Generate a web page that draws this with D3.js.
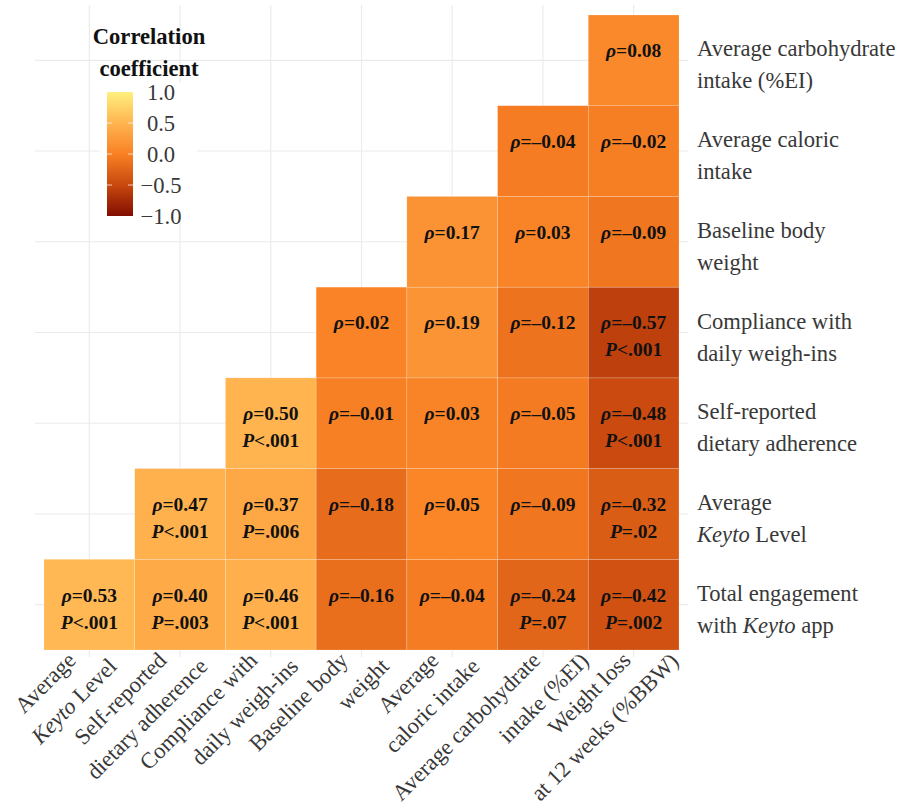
<!DOCTYPE html>
<html>
<head>
<meta charset="utf-8">
<script src="https://cdn.jsdelivr.net/npm/d3@7"></script>
<style>
  body { margin: 0; background: #fff; }
  text { font-family: "Liberation Serif", "Times New Roman", serif; }
</style>
</head>
<body>
<div class="chart"></div>
<script>
// columns, left to right
const colLabels = [
    ["Average", "*Keyto* Level"],
    ["Self-reported", "dietary adherence"],
    ["Compliance with", "daily weigh-ins"],
    ["Baseline body", "weight"],
    ["Average", "caloric intake"],
    ["Average carbohydrate", "intake (%EI)"],
    ["Weight loss", "at 12 weeks (%BBW)"]
];

// rows, bottom to top
const rowLabels = [
    ["Total engagement", "with *Keyto* app"],
    ["Average", "*Keyto* Level"],
    ["Self-reported", "dietary adherence"],
    ["Compliance with", "daily weigh-ins"],
    ["Baseline body", "weight"],
    ["Average caloric", "intake"],
    ["Average carbohydrate", "intake (%EI)"]
];

// rho per row (bottom to top), one entry per column
const rhoValues = [
    [0.53, 0.40, 0.46, -0.16, -0.04, -0.24, -0.42],
    [null, 0.47, 0.37, -0.18, 0.05, -0.09, -0.32],
    [null, null, 0.50, -0.01, 0.03, -0.05, -0.48],
    [null, null, null, 0.02, 0.19, -0.12, -0.57],
    [null, null, null, null, 0.17, 0.03, -0.09],
    [null, null, null, null, null, -0.04, -0.02],
    [null, null, null, null, null, null, 0.08]
];

// P labels, same layout
const pValues = [
    ["<.001", "=.003", "<.001", null, null, "=.07", "=.002"],
    [null, "<.001", "=.006", null, null, null, "=.02"],
    [null, null, "<.001", null, null, null, "<.001"],
    [null, null, null, null, null, null, "<.001"],
    [null, null, null, null, null, null, null],
    [null, null, null, null, null, null, null],
    [null, null, null, null, null, null, null]
];

const legendTicks = [1, 0.5, 0, -0.5, -1];
const colorStops = [-1, -0.5, 0, 0.5, 1];
const colorRange = ["#800d00", "#c8480e", "#f98124", "#ffb450", "#fff07e"];

const width = 903, height = 809;
const panel = {left: 35, right: 688, top: 5, bottom: 657};
const labelSize = 22.6, cellSize = 19.5;

const svg = d3.select(".chart").append("svg")
    .attr("width", width)
    .attr("height", height);

const colIdx = d3.range(colLabels.length);
const rowIdx = d3.range(rowLabels.length);

const x = d3.scaleBand()
    .domain(colIdx)
    .range([44, 679]);

const y = d3.scaleBand()
    .domain(rowIdx)
    .range([650, 15]);

const color = d3.scaleLinear()
    .domain(colorStops)
    .range(colorRange);

// grid
svg.append("g").selectAll("line")
    .data(colIdx)
    .join("line")
    .attr("x1", d => x(d) + x.bandwidth() / 2)
    .attr("x2", d => x(d) + x.bandwidth() / 2)
    .attr("y1", panel.top)
    .attr("y2", panel.bottom)
    .attr("stroke", "#ebebeb")
    .attr("stroke-width", 1.1);

svg.append("g").selectAll("line")
    .data(rowIdx)
    .join("line")
    .attr("y1", d => y(d) + y.bandwidth() / 2)
    .attr("y2", d => y(d) + y.bandwidth() / 2)
    .attr("x1", panel.left)
    .attr("x2", panel.right)
    .attr("stroke", "#ebebeb")
    .attr("stroke-width", 1.1);

// cells
const cells = [];
rhoValues.forEach((row, r) => {
    row.forEach((v, c) => {
        if (v !== null) cells.push({r: r, c: c, rho: v, p: pValues[r][c]});
    });
});

const cell = svg.append("g").selectAll("g")
    .data(cells)
    .join("g")
    .attr("transform", d => "translate(" + x(d.c) + "," + y(d.r) + ")");

cell.append("rect")
    .attr("width", x.bandwidth())
    .attr("height", y.bandwidth())
    .attr("fill", d => color(d.rho))
    .attr("stroke", "#ffffff")
    .attr("stroke-opacity", 0.3)
    .attr("stroke-width", 0.6);

const fmt = v => (v < 0 ? "\u2013" : "") + Math.abs(v).toFixed(2);

const rhoText = cell.append("text")
    .attr("x", x.bandwidth() / 2)
    .attr("y", y.bandwidth() / 2 - 10)
    .attr("text-anchor", "middle")
    .attr("dominant-baseline", "central")
    .attr("font-size", cellSize)
    .attr("font-weight", "bold")
    .attr("fill", "#111");
rhoText.append("tspan").attr("font-style", "italic").text("\u03c1");
rhoText.append("tspan").text(d => "=" + fmt(d.rho));

const pText = cell.filter(d => d.p !== null).append("text")
    .attr("x", x.bandwidth() / 2)
    .attr("y", y.bandwidth() / 2 + 17)
    .attr("text-anchor", "middle")
    .attr("dominant-baseline", "central")
    .attr("font-size", cellSize)
    .attr("font-weight", "bold")
    .attr("fill", "#111");
pText.append("tspan").attr("font-style", "italic").text("P");
pText.append("tspan").text(d => d.p);

// writes "plain *italic* plain" as tspans
function richText(sel, str) {
    str.split("*").forEach((part, i) => {
        if (part === "") return;
        sel.append("tspan")
            .attr("font-style", i % 2 ? "italic" : "normal")
            .text(part);
    });
}

// right labels
const rightG = svg.append("g");
rowIdx.forEach(r => {
    const cy = y(r) + y.bandwidth() / 2;
    rowLabels[r].forEach((line, i) => {
        const t = rightG.append("text")
            .attr("x", 697)
            .attr("y", cy + (i === 0 ? -12 : 20))
            .attr("dominant-baseline", "central")
            .attr("font-size", labelSize)
            .attr("fill", "#383838");
        richText(t, line);
    });
});

// bottom labels, rotated
const bottomG = svg.append("g");
const lineShift = [[-18, 656], [23, 662]];
colIdx.forEach(c => {
    const cx = x(c) + x.bandwidth() / 2;
    const texts = colLabels[c].map((line, i) => {
        const t = bottomG.append("text")
            .attr("text-anchor", "end")
            .attr("dominant-baseline", "central")
            .attr("font-size", labelSize)
            .attr("fill", "#383838");
        richText(t, line);
        return t;
    });
    // long labels sit a bit further right
    const w = d3.max(texts, t => t.node().getComputedTextLength());
    const extra = Math.max(0, w - 180);
    texts.forEach((t, i) => {
        const px = cx + lineShift[i][0] + extra * (i === 0 ? 0.6 : 1.0);
        const py = lineShift[i][1] - (i === 1 ? extra * 0.3 : 0);
        t.attr("transform", "translate(" + px + "," + py + ") rotate(-45)");
    });
});

// legend
const legend = svg.append("g");
legend.append("rect")
    .attr("x", 100).attr("y", 83)
    .attr("width", 97).attr("height", 134)
    .attr("fill", "#fff");

["Correlation", "coefficient"].forEach((s, i) => {
    legend.append("text")
        .attr("x", 149)
        .attr("y", 36 + i * 32)
        .attr("text-anchor", "middle")
        .attr("dominant-baseline", "central")
        .attr("font-size", labelSize)
        .attr("font-weight", "bold")
        .attr("fill", "#111")
        .text(s);
});

const ly = d3.scaleLinear().domain([-1, 1]).range([216, 92]);

const grad = svg.append("defs").append("linearGradient")
    .attr("id", "cgrad")
    .attr("x1", 0).attr("x2", 0).attr("y1", 1).attr("y2", 0);
grad.selectAll("stop")
    .data(colorStops)
    .join("stop")
    .attr("offset", d => (d + 1) / 2)
    .attr("stop-color", d => color(d));

legend.append("rect")
    .attr("x", 107)
    .attr("y", ly(1))
    .attr("width", 26)
    .attr("height", ly(-1) - ly(1))
    .attr("fill", "url(#cgrad)");

const tickG = legend.selectAll("g.tk")
    .data(legendTicks.filter(d => Math.abs(d) < 1))
    .join("g")
    .attr("class", "tk");
[[107, 112], [128, 133]].forEach(xs => {
    tickG.append("line")
        .attr("x1", xs[0]).attr("x2", xs[1])
        .attr("y1", d => ly(d)).attr("y2", d => ly(d))
        .attr("stroke", "#fff")
        .attr("stroke-opacity", 0.7);
});

legend.selectAll("text.lab")
    .data(legendTicks)
    .join("text")
    .attr("class", "lab")
    .attr("x", 161)
    .attr("y", d => ly(d))
    .attr("text-anchor", "middle")
    .attr("dominant-baseline", "central")
    .attr("font-size", labelSize)
    .attr("fill", "#383838")
    .text(d => d3.format(".1f")(d));
</script>
</body>
</html>
